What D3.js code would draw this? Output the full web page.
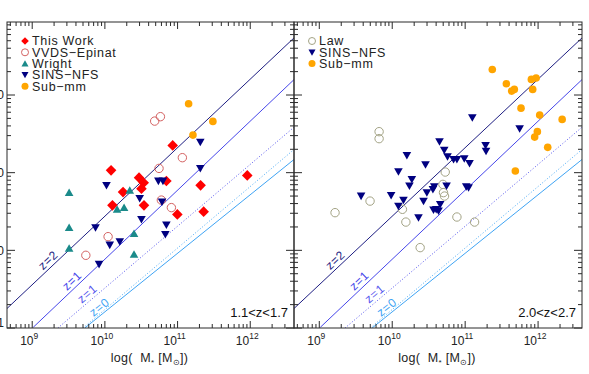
<!DOCTYPE html>
<html>
<head>
<meta charset="utf-8">
<script src="https://cdn.jsdelivr.net/npm/d3@7"></script>
<style>
body { margin: 0; background: #fff; }
svg { display: block; font-family: "Liberation Sans", Arial, sans-serif; }
</style>
</head>
<body>
<svg id="chart" width="589" height="374"></svg>
<script>
"use strict";

// All values are log10 of stellar mass (M) and log10 of the y quantity (Y)

// Left panel, 1.1<z<1.7
var thisWorkM = [10.085, 10.470, 10.534, 10.846, 10.933, 11.317, 11.959, 10.250, 10.503, 10.104, 10.538, 10.997, 11.359];
var thisWorkY = [2.030, 1.936, 1.871, 1.892, 2.351, 1.837, 1.965, 1.750, 1.794, 1.579, 1.579, 1.463, 1.498];

var vvdsM = [10.685, 10.764, 11.066, 10.745, 10.777, 10.915, 10.044, 9.738];
var vvdsY = [2.664, 2.721, 2.193, 2.055, 1.647, 1.550, 1.176, 0.936];

var wrightM = [9.508, 9.508, 9.508, 10.342, 10.168, 10.264, 10.401, 10.401];
var wrightY = [1.743, 1.292, 1.026, 1.772, 1.528, 1.550, 1.215, 0.949];

var sinsLowM = [10.022, 10.736, 10.799, 11.313, 11.313, 9.871, 10.067, 10.205, 9.920, 10.479, 10.503, 10.786, 10.846, 10.832];
var sinsLowY = [1.837, 1.892, 1.892, 2.394, 2.055, 1.292, 1.068, 1.112, 0.820, 1.669, 1.399, 1.622, 1.326, 1.206];

var submmLowM = [11.152, 11.486, 11.212];
var submmLowY = [2.888, 2.660, 2.484];

// Right panel, 2.0<z<2.7
var lawM = [9.820, 9.820, 10.727, 10.695, 10.703, 10.717, 9.696, 9.216, 10.140, 10.187, 10.887, 11.129, 10.383];
var lawY = [2.528, 2.438, 2.008, 1.849, 1.743, 1.699, 1.634, 1.485, 1.528, 1.364, 1.429, 1.364, 1.035];

var sinsHighM = [11.098, 11.747, 10.648, 11.280, 11.286, 10.713, 10.201, 10.758, 10.841, 10.887, 10.988, 11.060, 10.456, 10.085,
                 10.269, 10.236, 10.576, 10.745, 11.015, 11.047, 9.573, 9.985, 10.154, 10.085, 10.475, 10.429, 10.558, 10.603,
                 10.635, 10.658, 10.566, 10.360];
var sinsHighY = [2.708, 2.566, 2.399, 2.351, 2.278, 2.291, 2.223, 2.206, 2.171, 2.171, 2.180, 2.120, 2.103, 2.013,
                 1.914, 1.828, 1.820, 1.828, 1.820, 1.807, 1.699, 1.708, 1.647, 1.570, 1.743, 1.634, 1.785, 1.528,
                 1.506, 1.592, 1.519, 1.421];

var submmHighM = [11.372, 11.565, 11.637, 11.674, 11.908, 11.973, 11.926, 11.766, 12.022, 12.330, 11.990, 11.953, 12.132, 11.688];
var submmHighY = [3.329, 3.145, 3.050, 3.072, 3.201, 3.218, 3.072, 2.831, 2.741, 2.686, 2.528, 2.458, 2.326, 2.021];

// Reference relations (end points, log10), same in both panels
var relNames = ["z=2", "z=1", "z=1", "z=0", "z=0"];
var relM0 = [8.652, 9.014, 9.353, 9.700, 9.724];
var relY0 = [0.250, 0.009, 0.000, 0.000, 0.000];
var relM1 = [12.604, 12.604, 12.604, 12.604, 12.604];
var relY1 = [3.737, 3.200, 2.587, 2.300, 2.171];

// Axis ticks
var xMajor = [1e9, 1e10, 1e11, 1e12];
var xExp = ["9", "10", "11", "12"];
var yMajor = [1, 10, 100, 1000];
var yTickLabels = ["1", "10", "100", "1000"];

var panelLabels = ["1.1<z<1.7", "2.0<z<2.7"];

// ---- layout / styling ----
var plotTop = 22, plotBottom = 328;
var panelX = [[7, 294], [294, 582]];
var xDomain = [4.5e8, 4e12];
var yDomain = [1, Math.pow(10, 3.94)];

var relStyle = [
    { color: "#1e1e82", dash: null,  labelM: 9.285, show: true },
    { color: "#4646ea", dash: null,  labelM: 9.614, show: true },
    { color: "#5555ee", dash: "1,2", labelM: 9.821, show: true },
    { color: "#4aaaf6", dash: "1,2", labelM: 9.986, show: false },
    { color: "#3fa4f4", dash: null,  labelM: 9.986, show: true }
];

var symbols = {
    diamond: function(r) { return "M0," + (-r) + "L" + r + ",0L0," + r + "L" + (-r) + ",0Z"; },
    triUp: function(r) { return "M" + (-r) + "," + (r * 0.8) + "L" + r + "," + (r * 0.8) + "L0," + (-r * 0.95) + "Z"; },
    triDown: function(r) { return "M" + (-r) + "," + (-r * 0.8) + "L" + r + "," + (-r * 0.8) + "L0," + (r * 0.95) + "Z"; },
    circle: function(r) { return "M" + r + ",0A" + r + "," + r + " 0 1,1 " + (-r) + ",0A" + r + "," + r + " 0 1,1 " + r + ",0Z"; }
};

var series = [
    [
        { name: "This Work",   m: thisWorkM, y: thisWorkY, sym: "diamond", r: 5.3, fill: "#ff0000", stroke: "none" },
        { name: "VVDS\u2212Epinat", m: vvdsM, y: vvdsY, sym: "circle", r: 4.2, fill: "none", stroke: "#d46262" },
        { name: "Wright",      m: wrightM, y: wrightY, sym: "triUp", r: 4.3, fill: "#1a8a8a", stroke: "none" },
        { name: "SINS\u2212NFS", m: sinsLowM, y: sinsLowY, sym: "triDown", r: 4.3, fill: "#000080", stroke: "none" },
        { name: "Sub\u2212mm",  m: submmLowM, y: submmLowY, sym: "circle", r: 3.8, fill: "#ffa500", stroke: "none" }
    ],
    [
        { name: "Law",         m: lawM, y: lawY, sym: "circle", r: 4.2, fill: "none", stroke: "#a3a385" },
        { name: "SINS\u2212NFS", m: sinsHighM, y: sinsHighY, sym: "triDown", r: 4.3, fill: "#000080", stroke: "none" },
        { name: "Sub\u2212mm",  m: submmHighM, y: submmHighY, sym: "circle", r: 3.8, fill: "#ffa500", stroke: "none" }
    ]
];

var svg = d3.select("#chart");

var y = d3.scaleLog().domain(yDomain).range([plotBottom, plotTop]);

function minorTicks(domain) {
    var out = [];
    var lo = Math.floor(Math.log10(domain[0])), hi = Math.ceil(Math.log10(domain[1]));
    for (var k = lo; k <= hi; k++) {
        for (var m = 2; m <= 9; m++) {
            var v = m * Math.pow(10, k);
            if (v > domain[0] && v < domain[1]) out.push(v);
        }
    }
    return out;
}

panelX.forEach(function(px, pi) {

    var x = d3.scaleLog().domain(xDomain).range(px);
    var g = svg.append("g").attr("id", "panel_" + pi);

    g.append("clipPath").attr("id", "clip_" + pi)
        .append("rect")
        .attr("x", px[0]).attr("y", plotTop)
        .attr("width", px[1] - px[0]).attr("height", plotBottom - plotTop);

    // Reference relations
    var lines = g.append("g").attr("clip-path", "url(#clip_" + pi + ")");
    relNames.forEach(function(name, i) {
        var st = relStyle[i];
        lines.append("line")
            .attr("x1", x(Math.pow(10, relM0[i]))).attr("y1", y(Math.pow(10, relY0[i])))
            .attr("x2", x(Math.pow(10, relM1[i]))).attr("y2", y(Math.pow(10, relY1[i])))
            .attr("stroke", st.color).attr("stroke-width", 1)
            .attr("stroke-dasharray", st.dash);
        if (!st.show) return;
        var slope = (relY1[i] - relY0[i]) / (relM1[i] - relM0[i]);
        var lm = st.labelM;
        var ly = relY0[i] + slope * (lm - relM0[i]);
        var ax = x(Math.pow(10, relM0[i])), ay = y(Math.pow(10, relY0[i]));
        var bx = x(Math.pow(10, relM1[i])), by = y(Math.pow(10, relY1[i]));
        var ang = Math.atan2(by - ay, bx - ax) * 180 / Math.PI;
        g.append("text")
            .attr("transform", "translate(" + x(Math.pow(10, lm)) + "," + y(Math.pow(10, ly)) + ") rotate(" + ang + ")")
            .attr("dy", -3)
            .attr("text-anchor", "middle")
            .attr("font-size", 12)
            .attr("letter-spacing", 0.6)
            .attr("fill", st.color)
            .text(name);
    });

    // Data points
    series[pi].forEach(function(s) {
        g.append("g").selectAll("path")
            .data(s.m.map(function(m, j) { return [m, s.y[j]]; }))
            .enter().append("path")
            .attr("transform", function(d) { return "translate(" + x(Math.pow(10, d[0])) + "," + y(Math.pow(10, d[1])) + ")"; })
            .attr("d", symbols[s.sym](s.r))
            .attr("fill", s.fill)
            .attr("stroke", s.stroke)
            .attr("stroke-width", 1);
    });

    // Frame
    g.append("rect")
        .attr("x", px[0]).attr("y", plotTop)
        .attr("width", px[1] - px[0]).attr("height", plotBottom - plotTop)
        .attr("fill", "none").attr("stroke", "#2a2a2a").attr("stroke-width", 1);

    // x ticks (bottom and top)
    var ticks = g.append("g").attr("stroke", "#2a2a2a").attr("stroke-width", 1);
    xMajor.forEach(function(v) {
        ticks.append("line").attr("x1", x(v)).attr("x2", x(v)).attr("y1", plotBottom).attr("y2", plotBottom - 7);
        ticks.append("line").attr("x1", x(v)).attr("x2", x(v)).attr("y1", plotTop).attr("y2", plotTop + 7);
    });
    minorTicks(xDomain).forEach(function(v) {
        ticks.append("line").attr("x1", x(v)).attr("x2", x(v)).attr("y1", plotBottom).attr("y2", plotBottom - 4);
        ticks.append("line").attr("x1", x(v)).attr("x2", x(v)).attr("y1", plotTop).attr("y2", plotTop + 4);
    });

    // y ticks (left and right)
    yMajor.forEach(function(v) {
        ticks.append("line").attr("x1", px[0]).attr("x2", px[0] + 8).attr("y1", y(v)).attr("y2", y(v));
        ticks.append("line").attr("x1", px[1]).attr("x2", px[1] - 8).attr("y1", y(v)).attr("y2", y(v));
    });
    minorTicks(yDomain).forEach(function(v) {
        ticks.append("line").attr("x1", px[0]).attr("x2", px[0] + 4).attr("y1", y(v)).attr("y2", y(v));
        ticks.append("line").attr("x1", px[1]).attr("x2", px[1] - 4).attr("y1", y(v)).attr("y2", y(v));
    });

    // x tick labels
    xMajor.forEach(function(v, i) {
        var t = g.append("text")
            .attr("x", x(v) - 3).attr("y", 345)
            .attr("text-anchor", "middle")
            .attr("font-size", 12)
            .attr("fill", "#222");
        t.append("tspan").text("10");
        t.append("tspan").attr("dy", -6).attr("font-size", 8.5).text(xExp[i]);
    });

    // y tick labels, only on the left panel (they run off the page edge)
    if (pi === 0) {
        yMajor.forEach(function(v, i) {
            g.append("text")
                .attr("x", 4).attr("y", Math.min(y(v), 323))
                .attr("dy", "0.35em")
                .attr("text-anchor", "end")
                .attr("font-size", 12)
                .attr("fill", "#222")
                .text(yTickLabels[i]);
        });
    }

    // x axis title
    var title = g.append("text")
        .attr("x", (px[0] + px[1]) / 2 - 1).attr("y", 362)
        .attr("text-anchor", "middle")
        .attr("font-size", 12.5)
        .attr("fill", "#222")
        .attr("letter-spacing", 0.3)
        .attr("xml:space", "preserve");
    title.append("tspan").text("log(  M");
    title.append("tspan").attr("dy", 3).attr("font-size", 8).text("*");
    title.append("tspan").attr("dy", -3).text(" [M");
    title.append("tspan").attr("dy", 3).attr("font-size", 8).text("\u2299");
    title.append("tspan").attr("dy", -3).text("])");

    // Panel label
    g.append("text")
        .attr("x", px[1] - 6).attr("y", 317)
        .attr("text-anchor", "end")
        .attr("font-size", 13)
        .attr("fill", "#111")
        .text(panelLabels[pi]);

    // Legend
    var lx = px[0] + 18;
    series[pi].forEach(function(s, i) {
        var ly = 41 + i * 11.3;
        g.append("path")
            .attr("transform", "translate(" + lx + "," + ly + ")")
            .attr("d", symbols[s.sym](s.sym === "diamond" ? 3.8 : 3.5))
            .attr("fill", s.fill)
            .attr("stroke", s.stroke)
            .attr("stroke-width", 1);
        g.append("text")
            .attr("x", lx + 7).attr("y", ly + 4.4)
            .attr("font-size", 12.5)
            .attr("fill", "#222")
            .attr("letter-spacing", 0.7)
            .text(s.name);
    });
});
</script>
</body>
</html>
